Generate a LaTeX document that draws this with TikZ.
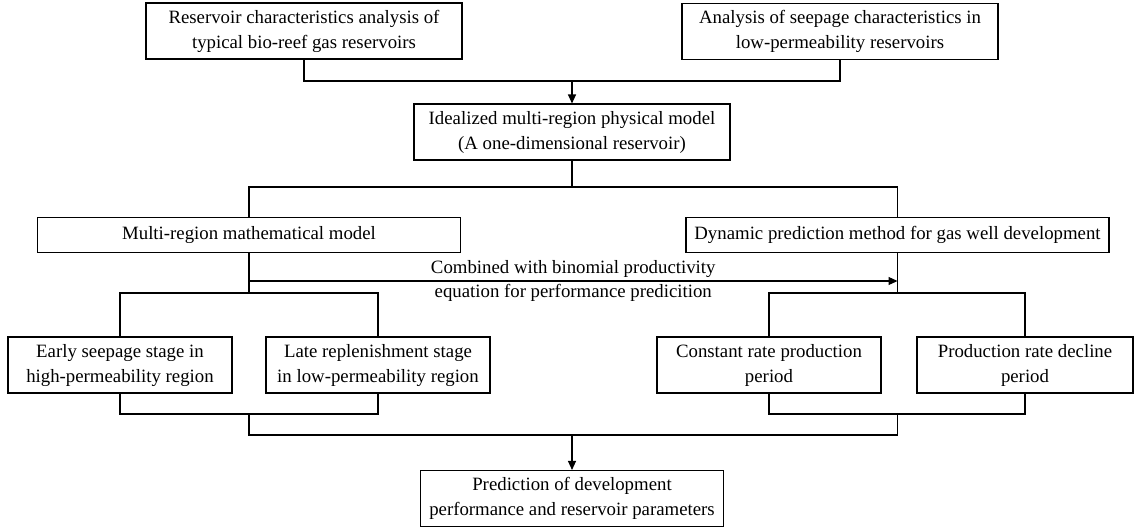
\documentclass[tikz,border=0pt]{standalone}
\usepackage{fontspec}
\setmainfont{Liberation Serif}
\usepackage{tikz}
\usetikzlibrary{arrows.meta,positioning}

\begin{document}
\begin{tikzpicture}[x=0.5pt,y=-0.5pt,font=\fontsize{9.4}{12.5}\selectfont,
 >={Triangle[length=4.5pt,width=4pt]},line width=0.55pt,
 box/.style={draw,align=center,inner sep=1pt,minimum height=28pt},
 wide/.style={box,minimum width=158pt},
 flat/.style={box,minimum width=211.5pt,minimum height=17.5pt},
 stage/.style={box,minimum width=112pt}]
 \useasboundingbox (0,0) rectangle (1134,531);
 \node[wide] (rca) at (304,31) {Reservoir characteristics analysis of\\typical bio-reef gas reservoirs};
 \node[wide] (sca) at (840,31.5) {Analysis of seepage characteristics in\\low-permeability reservoirs};
 \node[wide] (phys) at (572,132) {Idealized multi-region physical model\\(A one-dimensional reservoir)};
 \node[flat] (math) at (249,235) {Multi-region mathematical model};
 \node[flat] (dyn) at (897.5,235) {Dynamic prediction method for gas well development};
 \node[stage] (early) at (120,365) {Early seepage stage in\\high-permeability region};
 \node[stage] (late) at (378,365) {Late replenishment stage\\in low-permeability region};
 \node[stage] (const) at (769,365) {Constant rate production\\period};
 \node[stage,minimum width=108pt] (decl) at (1025,365) {Production rate decline\\period};
 \node[box,minimum width=151.5pt] (pred) at (572,498.5) {Prediction of development\\performance and reservoir parameters};
 \coordinate (top) at (572,81);
 \coordinate (fork) at (572,187);
 \coordinate (lsplit) at (249,293);
 \coordinate (rsplit) at (897.5,293);
 \coordinate (lfrom) at (249,281);
 \coordinate (rto) at (897.5,281);
 \coordinate (ljoin) at (249,414);
 \coordinate (rjoin) at (897.5,414);
 \coordinate (bottom) at (572,435);
 \draw (rca.south) |- (top) -| (sca.south);
 \draw[->] (top) -- (phys.north);
 \draw (phys.south) -- (fork);
 \draw (math.north) |- (fork) -| (dyn.north);
 \draw (math.south) -- (lsplit);
 \draw (dyn.south) -- (rsplit);
 \draw[->] (lfrom) -- node[above,inner sep=1.5pt] {Combined with binomial productivity}
 node[below,inner sep=1.5pt] {equation for performance predicition} (rto);
 \draw (early.north) |- (lsplit) -| (late.north);
 \draw (const.north) |- (rsplit) -| (decl.north);
 \draw (early.south) |- (ljoin) -| (late.south);
 \draw (const.south) |- (rjoin) -| (decl.south);
 \draw (ljoin) |- (bottom) -| (rjoin);
 \draw[->] (bottom) -- (pred.north);
\end{tikzpicture}
\end{document}
